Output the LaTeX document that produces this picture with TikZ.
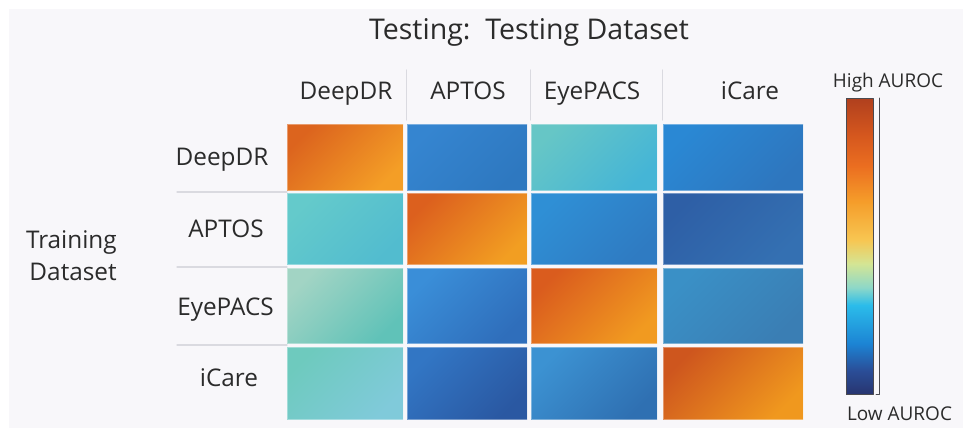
\documentclass[tikz,border=0pt]{standalone}
\usepackage{fontspec}
\setmainfont{Open Sans}
\definecolor{bgpanel}{HTML}{F8F7FA}
\definecolor{txt}{HTML}{2B2B2B}
\definecolor{sepline}{HTML}{DADAE0}
\definecolor{bargray}{HTML}{4A4A50}
% cell colours: a = top left, b = bottom right
\definecolor{c11a}{HTML}{DC641E}\definecolor{c11b}{HTML}{F49E26}
\definecolor{c12a}{HTML}{3585D0}\definecolor{c12b}{HTML}{2E78C0}
\definecolor{c13a}{HTML}{66C6C6}\definecolor{c13b}{HTML}{45B5D6}
\definecolor{c14a}{HTML}{2A88D4}\definecolor{c14b}{HTML}{2E76BE}
\definecolor{c21a}{HTML}{64CACB}\definecolor{c21b}{HTML}{52BCCF}
\definecolor{c22a}{HTML}{DC601E}\definecolor{c22b}{HTML}{F29E22}
\definecolor{c23a}{HTML}{2F8FD5}\definecolor{c23b}{HTML}{2F7BC2}
\definecolor{c24a}{HTML}{2E5FA6}\definecolor{c24b}{HTML}{3470B2}
\definecolor{c31a}{HTML}{A2D4C4}\definecolor{c31b}{HTML}{60C2B8}
\definecolor{c32a}{HTML}{3A8ED8}\definecolor{c32b}{HTML}{2F6EBB}
\definecolor{c33a}{HTML}{DA5C1E}\definecolor{c33b}{HTML}{F19A20}
\definecolor{c34a}{HTML}{3A90C6}\definecolor{c34b}{HTML}{3A7EB4}
\definecolor{c41a}{HTML}{6ECABE}\definecolor{c41b}{HTML}{80CADA}
\definecolor{c42a}{HTML}{3276C4}\definecolor{c42b}{HTML}{2A58A2}
\definecolor{c43a}{HTML}{3C92D2}\definecolor{c43b}{HTML}{2F70B2}
\definecolor{c44a}{HTML}{CE561E}\definecolor{c44b}{HTML}{F0981E}
% colour bar
\definecolor{bar0}{HTML}{283570}\definecolor{bar1}{HTML}{2A4E98}
\definecolor{bar2}{HTML}{1C84D4}\definecolor{bar3}{HTML}{2BBCEA}
\definecolor{bar4}{HTML}{8ED8C8}\definecolor{bar5}{HTML}{D4E594}
\definecolor{bar6}{HTML}{F7C652}\definecolor{bar7}{HTML}{F59D2A}
\definecolor{bar8}{HTML}{EB6E20}\definecolor{bar9}{HTML}{D4561E}
\definecolor{bar10}{HTML}{B0401E}
\pgfdeclareverticalshading{aurocbar}{100bp}{color(0bp)=(bar0); color(25bp)=(bar0); color(29bp)=(bar1); color(33.5bp)=(bar2); color(40bp)=(bar3); color(43bp)=(bar4); color(47bp)=(bar5); color(51bp)=(bar6); color(57.5bp)=(bar7); color(63.5bp)=(bar8); color(69bp)=(bar9); color(75bp)=(bar10); color(100bp)=(bar10)}
\begin{document}
\begin{tikzpicture}[x=0.025cm,y=-0.025cm,line join=round,line cap=round,
	lbl/.style={text=txt,font=\fontsize{17.3}{20}\selectfont,inner sep=0pt,anchor=base},
	sep/.style={sepline,line width=0.8pt}]
	\fill[white] (0,0) rectangle (963,428);
	\fill[bgpanel] (9,9) rectangle (963,428);
	\node[lbl,font=\fontsize{20.3}{24}\selectfont] (title) at (529,39) {Testing:\ \ Testing Dataset};
	\foreach \nm/\xc in {DeepDR/346,APTOS/468,EyePACS/592,iCare/750} \node[lbl] (col\nm) at (\xc,99) {\nm};
	\foreach \nm/\xc/\yb in {DeepDR/222/165,APTOS/226/237,EyePACS/225.5/315,iCare/229/386} \node[lbl] (row\nm) at (\xc,\yb) {\nm};
	\node[lbl,anchor=base east] (train) at (117,248) {Training};
	\node[lbl,anchor=base east] (dset) at (117,280) {Dataset};
	\foreach \xs in {406.5,530.5,662.5} \draw[sep] (\xs,70)--(\xs,120);
	\foreach \ys in {192,267,345} \draw[sep] (177,\ys)--(287,\ys);
	\foreach \r in {1,...,4}{
		\foreach \c in {1,...,4}{
			\pgfmathsetmacro\xa{{0,287,407,531,663}[\c]}\pgfmathsetmacro\xb{{0,403,527,657,803}[\c]}
			\pgfmathsetmacro\ya{{0,124,193,268,347}[\r]}\pgfmathsetmacro\yb{{0,190,264,343,419}[\r]}
			\shade[top color=c\r\c a,bottom color=c\r\c b,shading angle=45] (\xa,\ya) rectangle (\xb,\yb);
			\draw[white,opacity=.35,line width=.6pt] (\xa,\ya) rectangle (\xb,\yb);
		}
	}
	\shade[shading=aurocbar] (846,98) rectangle (873,394);
	\draw[bargray,line width=.6pt] (846,98) rectangle (873,394);
	\draw[bargray,line width=.6pt] (879,98)--(879,394)--(876,394);
	\node[lbl,font=\fontsize{13.5}{16}\selectfont] (hi) at (888,87) {High AUROC};
	\node[lbl,font=\fontsize{13.5}{16}\selectfont] (lo) at (899.5,420) {Low AUROC};
\end{tikzpicture}
\end{document}
